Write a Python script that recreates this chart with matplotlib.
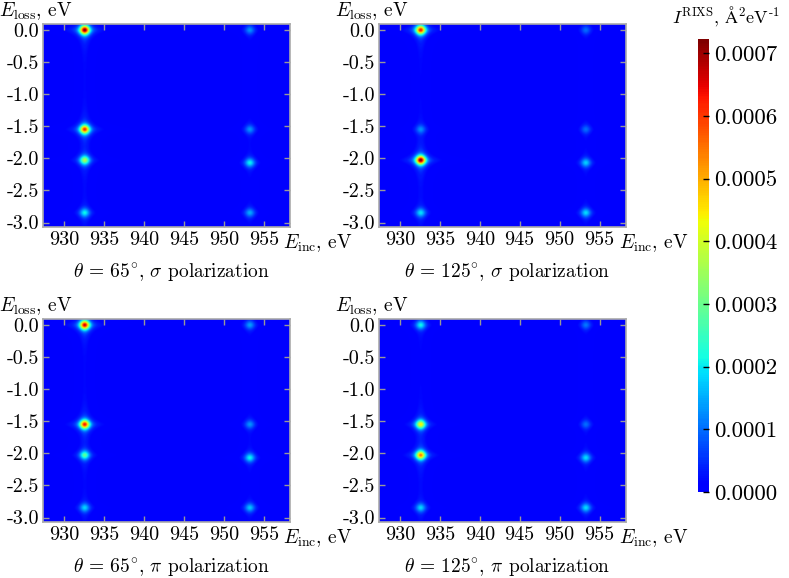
import numpy as np
import matplotlib
matplotlib.use('Agg')
import matplotlib.pyplot as plt
from matplotlib.colors import ListedColormap

plt.rcParams['font.family'] = 'serif'
plt.rcParams['font.serif'] = ['cmr10']
plt.rcParams['mathtext.fontset'] = 'cm'
plt.rcParams['axes.unicode_minus'] = False

# resonance positions (incident energy, eV) and loss lines (eV)
edges = [932.6, 953.3]
loss_l3 = [0.0, -1.55, -2.03, -2.85]
loss_l2 = [0.0, -1.55, -2.07, -2.85]

# peak heights, A^2/eV  (L3 edge, L2 edge)
amp_65_sigma_l3 = [0.00072, 0.00060, 0.00035, 0.00020]
amp_65_sigma_l2 = [0.00012, 0.00012, 0.00020, 0.00014]
amp_125_sigma_l3 = [0.00062, 0.00011, 0.00072, 0.00018]
amp_125_sigma_l2 = [0.00009, 0.00009, 0.00017, 0.00018]
amp_65_pi_l3 = [0.00066, 0.00062, 0.00027, 0.00017]
amp_65_pi_l2 = [0.00013, 0.00012, 0.00020, 0.00016]
amp_125_pi_l3 = [0.00020, 0.00043, 0.00053, 0.00017]
amp_125_pi_l2 = [0.00010, 0.00009, 0.00018, 0.00018]
# weak background line along each edge
streak = [0.000014, 0.000010]

# broadening: gaussian core + lorentzian tails
sigma_inc, sigma_loss = 0.42, 0.05
gamma_inc, gamma_loss = 0.6, 0.06
eta = 0.45

titles = [r'$\theta\,=\,65^{\circ}$, $\sigma$ polarization',
          r'$\theta\,=\,125^{\circ}$, $\sigma$ polarization',
          r'$\theta\,=\,65^{\circ}$, $\pi$ polarization',
          r'$\theta\,=\,125^{\circ}$, $\pi$ polarization']

xticks = [930, 935, 940, 945, 950, 955]
xticklabels = ['930', '935', '940', '945', '950', '955']
yticks = [0.0, -0.5, -1.0, -1.5, -2.0, -2.5, -3.0]
yticklabels = ['0.0', '-0.5', '-1.0', '-1.5', '-2.0', '-2.5', '-3.0']
cbar_ticks = [0.0, 0.0001, 0.0002, 0.0003, 0.0004, 0.0005, 0.0006, 0.0007]
cbar_labels = ['0.0000', '0.0001', '0.0002', '0.0003', '0.0004', '0.0005', '0.0006', '0.0007']

xlim = (927.4, 958.3)
ylim = (-3.07, 0.09)
vmax = 0.000723

x = np.linspace(xlim[0], xlim[1], 500)
y = np.linspace(ylim[0], ylim[1], 500)
X, Y = np.meshgrid(x, y)


def rixs_map(amp_l3, amp_l2):
    Z = np.zeros_like(X)
    for e0, losses, amps, s in [(edges[0], loss_l3, amp_l3, streak[0]),
                                (edges[1], loss_l2, amp_l2, streak[1])]:
        dx = X - e0
        lx = 1.0 / (1.0 + (dx / gamma_inc) ** 2)
        gx = np.exp(-0.5 * (dx / sigma_inc) ** 2)
        for l, a in zip(losses, amps):
            dy = Y - l
            ly = 1.0 / (1.0 + (dy / gamma_loss) ** 2)
            gy = np.exp(-0.5 * (dy / sigma_loss) ** 2)
            Z += a * ((1 - eta) * gx * gy + eta * lx * ly)
        Z += s * lx
    return Z


maps = [rixs_map(amp_65_sigma_l3, amp_65_sigma_l2),
        rixs_map(amp_125_sigma_l3, amp_125_sigma_l2),
        rixs_map(amp_65_pi_l3, amp_65_pi_l2),
        rixs_map(amp_125_pi_l3, amp_125_pi_l2)]

cmap = ListedColormap(plt.cm.jet(np.linspace(0.11, 1.0, 256)))

W, H = 789, 578
fig = plt.figure(figsize=(W / 100, H / 100), dpi=100)

# panel boxes in pixels: left, top
boxes = [(43.3, 24), (379, 24), (43.3, 319), (379, 319)]
pw, ph = 247, 203

for (l, t), Z, title in zip(boxes, maps, titles):
    ax = fig.add_axes([l / W, 1 - (t + ph) / H, pw / W, ph / H])
    im = ax.imshow(Z, extent=[xlim[0], xlim[1], ylim[0], ylim[1]], origin='lower',
                   aspect='auto', cmap=cmap, vmin=0, vmax=vmax, interpolation='bilinear')
    ax.set_xlim(xlim)
    ax.set_ylim(ylim)
    ax.set_xticks(xticks)
    ax.set_xticklabels(xticklabels)
    ax.set_yticks(yticks)
    ax.set_yticklabels(yticklabels)
    ax.tick_params(direction='in', top=True, right=True, length=4, width=1,
                   color='#999999', labelsize=14.5, pad=3)
    for sp in ax.spines.values():
        sp.set_color('#aaaaaa')
        sp.set_linewidth(1.2)
    ax.text(-0.178, 1.062, r'$E_{\mathrm{loss}}$, eV', transform=ax.transAxes,
            ha='left', va='center', fontsize=14)
    ax.text(0.972, -0.078, r'$E_{\mathrm{inc}}$, eV', transform=ax.transAxes,
            ha='left', va='center', fontsize=14)
    ax.text(0.52, -0.225, title, transform=ax.transAxes,
            ha='center', va='center', fontsize=14)

cax = fig.add_axes([698 / W, 1 - 492 / H, 11 / W, 453 / H])
cb = fig.colorbar(im, cax=cax)
cb.outline.set_visible(False)
cb.set_ticks(cbar_ticks)
cb.set_ticklabels(cbar_labels)
cax.tick_params(direction='in', length=4, width=1, color='black', labelsize=16.5, pad=4)
fig.text(725.7 / W, 1 - 16 / H, r'$I^{\mathrm{RIXS}}$, $\mathrm{\AA}^2$eV$^{\text{-1}}$',
         ha='center', va='center', fontsize=13)

fig.savefig('out.png', dpi=100)
